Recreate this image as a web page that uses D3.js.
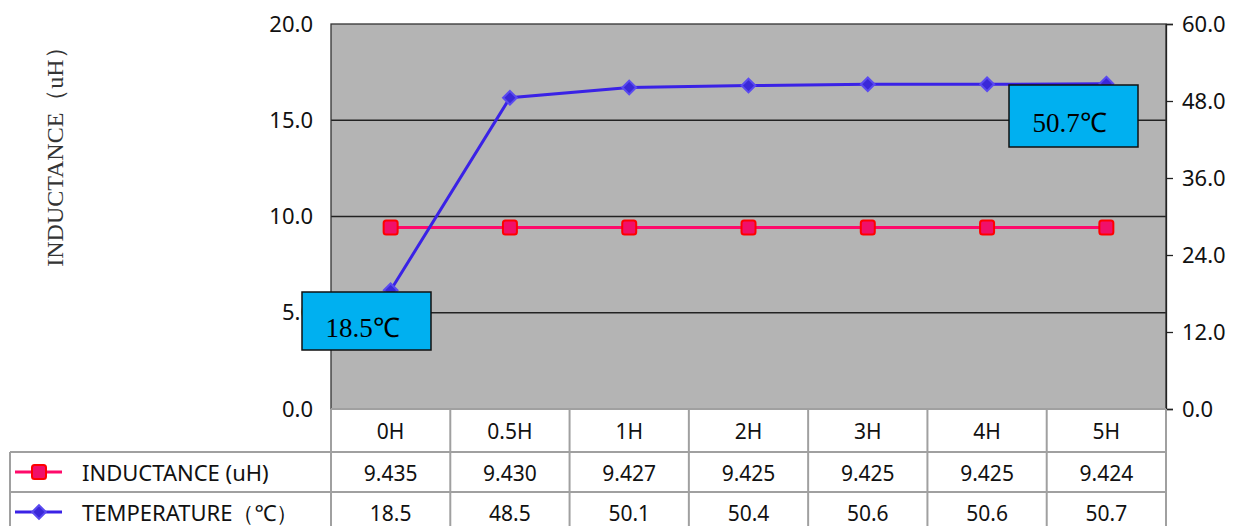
<!DOCTYPE html>
<html>
<head>
<meta charset="utf-8">
<script src="https://cdn.jsdelivr.net/npm/d3@7"></script>
<style>
body{margin:0;background:#fff;}
svg{display:block;}
</style>
</head>
<body>
<svg id="chart" width="1244" height="526"></svg>
<script>
const categories=["0H","0.5H","1H","2H","3H","4H","5H"];
const inductance=[9.435,9.430,9.427,9.425,9.425,9.425,9.424];
const temperature=[18.5,48.5,50.1,50.4,50.6,50.6,50.7];
const inductanceLabels=["9.435","9.430","9.427","9.425","9.425","9.425","9.424"];
const temperatureLabels=["18.5","48.5","50.1","50.4","50.6","50.6","50.7"];
const leftTicks=[0,5,10,15,20];
const rightTicks=[0,12,24,36,48,60];
const seriesNames=["INDUCTANCE (uH)","TEMPERATURE（℃）"];
const callouts=[{i:0,text:"18.5℃"},{i:6,text:"50.7℃"}];

let svg=d3.select("#chart");
let pLeft=331,pRight=1166,pTop=24,pBottom=409;
let rowH=[43,40,40];

let x=d3.scaleBand().domain(categories).range([pLeft,pRight]);
let yL=d3.scaleLinear().domain([0,20]).range([pBottom,pTop]);
let yR=d3.scaleLinear().domain([0,60]).range([pBottom,pTop]);

// plot background
svg.append("rect").attr("x",pLeft).attr("y",pTop).attr("width",pRight-pLeft).attr("height",pBottom-pTop)
	.attr("fill","#b4b4b4");

// gridlines
svg.append("g").selectAll("line").data(leftTicks.slice(1,4)).enter().append("line")
	.attr("x1",pLeft).attr("x2",pRight).attr("y1",d=>yL(d)).attr("y2",d=>yL(d))
	.attr("stroke","#222").attr("stroke-width",1.3)

svg.append("rect").attr("x",pLeft).attr("y",pTop).attr("width",pRight-pLeft).attr("height",pBottom-pTop)
	.attr("fill","none").attr("stroke","#333").attr("stroke-width",1.3);

// left axis (labels only)
let gl=svg.append("g").attr("transform",`translate(${pLeft},0)`)
	.call(d3.axisLeft(yL).tickValues(leftTicks).tickFormat(d3.format(".1f")).tickSize(0).tickPadding(18));
gl.select(".domain").remove();
gl.selectAll("text").attr("font-family","'Noto Sans','DejaVu Sans',sans-serif").attr("font-size",22).attr("fill","#111");

// right axis
let gr=svg.append("g").attr("transform",`translate(${pRight},0)`)
	.call(d3.axisRight(yR).tickValues(rightTicks).tickFormat(d3.format(".1f")).tickSize(7).tickPadding(9));
gr.select(".domain").attr("stroke","#222").attr("stroke-width",1.3);
gr.selectAll("line").attr("stroke","#222").attr("stroke-width",1.3);
gr.selectAll("text").attr("font-family","'Noto Sans','DejaVu Sans',sans-serif").attr("font-size",22).attr("fill","#111");

// axis title
svg.append("text").attr("transform","translate(63,151) rotate(-90)")
	.attr("text-anchor","middle").attr("font-family","'Liberation Serif',serif")
	.attr("font-size",24).attr("fill","#333").text("INDUCTANCE（uH）");

// lines
let cx=d=>x(d)+x.bandwidth()/2;
let lineL=d3.line().x((d,i)=>cx(categories[i])).y(d=>yL(d));
let lineR=d3.line().x((d,i)=>cx(categories[i])).y(d=>yR(d));

svg.append("path").attr("d",lineL(inductance)).attr("fill","none").attr("stroke","#ff0a6a").attr("stroke-width",3);
svg.append("path").attr("d",lineR(temperature)).attr("fill","none").attr("stroke","#3a22e6").attr("stroke-width",3);

svg.append("g").selectAll("rect").data(inductance).enter().append("rect")
	.attr("x",(d,i)=>cx(categories[i])-7).attr("y",d=>yL(d)-7).attr("width",14).attr("height",14)
	.attr("rx",2.5).attr("fill","#f0106a").attr("stroke","#ff0000").attr("stroke-width",2);

let diamond=d3.symbol().type(d3.symbolDiamond2).size(120);
svg.append("g").selectAll("path").data(temperature).enter().append("path")
	.attr("transform",(d,i)=>`translate(${cx(categories[i])},${yR(d)})`)
	.attr("d",diamond).attr("fill","#3a28d8").attr("stroke","#5a4af0").attr("stroke-width",2);

// callouts
let cw=129;
let cg=svg.append("g").selectAll("g").data(callouts).enter().append("g")
	.attr("transform",d=>d.i==0?`translate(302,292)`:`translate(1009,85)`);
cg.append("rect").attr("width",cw).attr("height",d=>d.i==0?58:62)
	.attr("fill","#00b0f0").attr("stroke","#111").attr("stroke-width",1.5);
cg.append("text").attr("x",cw/2-4).attr("y",d=>d.i==0?45:47).attr("text-anchor","middle")
	.attr("font-family","'Liberation Serif',serif").attr("font-size",27).attr("fill","#000")
	.text(d=>d.text);

// data table
let tf="'Noto Sans','DejaVu Sans',sans-serif";
let tstroke="#a0a0a0";
let tbl=svg.append("g");
let y1=pBottom,y2=pBottom+rowH[0],y3=y2+rowH[1],y4=y3+rowH[2];
let hl=[[pLeft,pRight,y1],[10,pRight,y2],[10,pRight,y3],[10,pRight,y4]];
tbl.selectAll("line.h").data(hl).enter().append("line")
	.attr("x1",d=>d[0]).attr("x2",d=>d[1]).attr("y1",d=>d[2]).attr("y2",d=>d[2])
	.attr("stroke",tstroke).attr("stroke-width",2);
let vx=categories.map(c=>x(c)).concat([pRight]);
tbl.selectAll("line.v").data(vx).enter().append("line")
	.attr("x1",d=>d).attr("x2",d=>d).attr("y1",y1).attr("y2",y4)
	.attr("stroke",tstroke).attr("stroke-width",2);
tbl.append("line").attr("x1",10).attr("x2",10).attr("y1",y2).attr("y2",y4).attr("stroke",tstroke).attr("stroke-width",2);

tbl.selectAll("text.c").data(categories).enter().append("text")
	.attr("x",d=>cx(d)).attr("y",y1+30).attr("text-anchor","middle")
	.attr("font-family",tf).attr("font-size",21).attr("fill","#111").text(d=>d);
tbl.selectAll("text.a").data(inductanceLabels).enter().append("text")
	.attr("x",(d,i)=>cx(categories[i])).attr("y",y2+29).attr("text-anchor","middle")
	.attr("font-family",tf).attr("font-size",21).attr("fill","#111").text(d=>d);
tbl.selectAll("text.b").data(temperatureLabels).enter().append("text")
	.attr("x",(d,i)=>cx(categories[i])).attr("y",y3+29).attr("text-anchor","middle")
	.attr("font-family",tf).attr("font-size",21).attr("fill","#111").text(d=>d);

// legend keys
let ky=[y2+rowH[1]/2,y3+rowH[2]/2];
tbl.append("line").attr("x1",15).attr("x2",62).attr("y1",ky[0]).attr("y2",ky[0]).attr("stroke","#ff0a6a").attr("stroke-width",3);
tbl.append("rect").attr("x",32).attr("y",ky[0]-7).attr("width",14).attr("height",14).attr("rx",2.5)
	.attr("fill","#f0106a").attr("stroke","#ff0000").attr("stroke-width",2);
tbl.append("line").attr("x1",15).attr("x2",62).attr("y1",ky[1]).attr("y2",ky[1]).attr("stroke","#3a22e6").attr("stroke-width",3);
tbl.append("path").attr("transform",`translate(39,${ky[1]})`).attr("d",diamond)
	.attr("fill","#3a28d8").attr("stroke","#5a4af0").attr("stroke-width",2);
tbl.selectAll("text.n").data(seriesNames).enter().append("text")
	.attr("x",82).attr("y",(d,i)=>[y2,y3][i]+29)
	.attr("font-family",tf).attr("font-size",22).attr("fill","#111").text(d=>d);
</script>
</body>
</html>
